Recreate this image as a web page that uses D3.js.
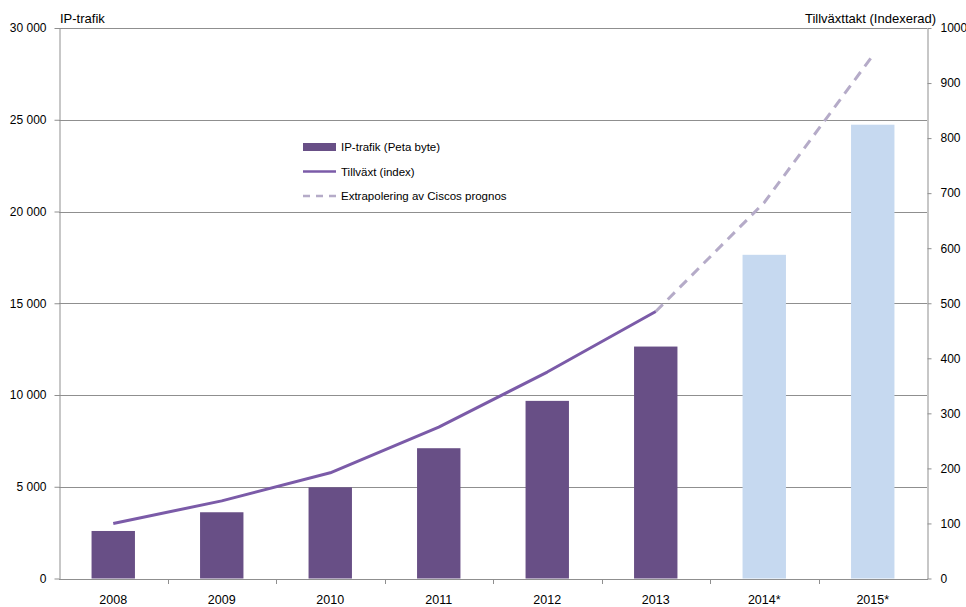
<!DOCTYPE html>
<html>
<head>
<meta charset="utf-8">
<script src="https://cdn.jsdelivr.net/npm/d3@7/dist/d3.min.js"></script>
<style>
  html, body { margin: 0; padding: 0; background: #fff; }
  svg { display: block; font-family: "Liberation Sans", Arial, sans-serif; }
</style>
</head>
<body>
<svg id="chart" width="966" height="607"></svg>
<script>
// Years on the category axis (* = forecast)
const categories = ["2008", "2009", "2010", "2011", "2012", "2013", "2014*", "2015*"];
// IP traffic in petabytes per year
const traffic = [2590, 3610, 4970, 7100, 9680, 12640, 17640, 24730];
// Growth index (2008 = 100), measured years
const growthYears = ["2008", "2009", "2010", "2011", "2012", "2013"];
const growth = [100, 141, 192, 275, 375, 485];
// Extrapolated growth index from the Cisco forecast
const extrapYears = ["2013", "2014*", "2015*"];
const extrapolation = [485, 683, 950];
// Axis ticks
const leftTicks = [0, 5000, 10000, 15000, 20000, 25000, 30000];
const rightTicks = [0, 100, 200, 300, 400, 500, 600, 700, 800, 900, 1000];
// Legend entries
const legendLabels = ["IP-trafik (Peta byte)", "Tillväxt (index)", "Extrapolering av Ciscos prognos"];

const svg = d3.select("#chart");
const plotLeft = 59, plotRight = 927, plotTop = 28, plotBottom = 578.5;

const colDark = "#684f86";
const colLight = "#c6d9f0";
const colLine = "#7b5ba8";
const colDash = "#b5abc8";
const colGrid = "#8f8f8f";
const colText = "#000";

const x = d3.scaleBand().domain(categories).range([plotLeft, plotRight]).padding(0);
const yL = d3.scaleLinear().domain([0, 30000]).range([plotBottom, plotTop]);
const yR = d3.scaleLinear().domain([0, 1000]).range([plotBottom, plotTop]);

const fmt = d3.formatLocale({ decimal: ",", thousands: " ", grouping: [3], currency: ["", " kr"] }).format(",d");

// Horizontal gridlines
svg.append("g")
  .selectAll("line")
  .data(leftTicks)
  .join("line")
  .attr("x1", plotLeft).attr("x2", plotRight)
  .attr("y1", d => Math.round(yL(d)) + 0.5)
  .attr("y2", d => Math.round(yL(d)) + 0.5)
  .attr("stroke", colGrid)
  .attr("stroke-width", 1);

// Bars
const barW = x.bandwidth() * 0.4;
svg.append("g")
  .selectAll("rect")
  .data(categories)
  .join("rect")
  .attr("x", (d) => x(d) + (x.bandwidth() - barW) / 2)
  .attr("width", barW)
  .attr("y", (d, i) => yL(traffic[i]))
  .attr("height", (d, i) => yL(0) - yL(traffic[i]))
  .attr("fill", d => d.includes("*") ? colLight : colDark);

// Left axis
const axL = svg.append("g")
  .attr("transform", `translate(${plotLeft + 0.5},0)`)
  .call(d3.axisLeft(yL).tickValues(leftTicks).tickFormat(fmt).tickSize(5).tickSizeOuter(0).tickPadding(8));
// Right axis
const axR = svg.append("g")
  .attr("transform", `translate(${plotRight + 0.5},0)`)
  .call(d3.axisRight(yR).tickValues(rightTicks).tickFormat(d => d).tickSize(4).tickSizeOuter(0).tickPadding(9));
// Bottom axis: labels centred in each band, ticks at band boundaries
const axB = svg.append("g")
  .attr("transform", `translate(0,${Math.round(plotBottom) + 0.5})`)
  .call(d3.axisBottom(x).tickSize(0));
axB.select(".domain").remove();
axB.selectAll(".tick text").attr("y", 24.5).attr("dy", 0);
svg.append("line")
  .attr("x1", plotLeft).attr("x2", plotRight + 1)
  .attr("y1", Math.round(plotBottom) + 0.5).attr("y2", Math.round(plotBottom) + 0.5)
  .attr("stroke", colGrid);
svg.append("g")
  .selectAll("line")
  .data(categories.slice(1))
  .join("line")
  .attr("x1", d => Math.round(x(d)) + 0.5)
  .attr("x2", d => Math.round(x(d)) + 0.5)
  .attr("y1", Math.round(plotBottom)).attr("y2", Math.round(plotBottom) + 5)
  .attr("stroke", colGrid);

[axL, axR].forEach(a => {
  a.select(".domain").attr("stroke", colGrid);
  a.selectAll(".tick line").attr("stroke", colGrid);
  a.selectAll("text").attr("font-size", 12);
});
[axL, axR, axB].forEach(a => {
  a.selectAll("text").attr("fill", colText)
    .attr("font-family", "'Liberation Sans', Arial, sans-serif");
});
axB.selectAll("text").attr("font-size", 12.5);

// Growth index line
const cx = d => x(d) + x.bandwidth() / 2;
const line = d3.line().x(d => cx(d[0])).y(d => yR(d[1]));

svg.append("path")
  .datum(extrapYears.map((c, i) => [c, extrapolation[i]]))
  .attr("d", line)
  .attr("fill", "none")
  .attr("stroke", colDash)
  .attr("stroke-width", 3)
  .attr("stroke-dasharray", "10,7");

svg.append("path")
  .datum(growthYears.map((c, i) => [c, growth[i]]))
  .attr("d", line)
  .attr("fill", "none")
  .attr("stroke", colLine)
  .attr("stroke-width", 3)
  .attr("stroke-linejoin", "round");

// Axis titles
svg.append("text").attr("x", 60).attr("y", 23)
  .attr("font-size", 13).attr("fill", colText).text("IP-trafik");
svg.append("text").attr("x", 936).attr("y", 23).attr("text-anchor", "end")
  .attr("font-size", 13).attr("fill", colText).text("Tillväxttakt (Indexerad)");

// Legend
const lg = svg.append("g").attr("transform", "translate(303,147)");
const rowH = 24.5;
lg.append("rect").attr("x", 0).attr("y", -4).attr("width", 33).attr("height", 8).attr("fill", colDark);
lg.append("line").attr("x1", 0).attr("x2", 33).attr("y1", rowH).attr("y2", rowH)
  .attr("stroke", colLine).attr("stroke-width", 2.5);
lg.append("line").attr("x1", 0).attr("x2", 33).attr("y1", rowH * 2).attr("y2", rowH * 2)
  .attr("stroke", colDash).attr("stroke-width", 2.5).attr("stroke-dasharray", "7,6");
lg.selectAll("text")
  .data(legendLabels)
  .join("text")
  .attr("x", 38)
  .attr("y", (d, i) => i * rowH)
  .attr("dy", "0.35em")
  .attr("font-size", 11.5)
  .attr("fill", colText)
  .text(d => d);
</script>
</body>
</html>
